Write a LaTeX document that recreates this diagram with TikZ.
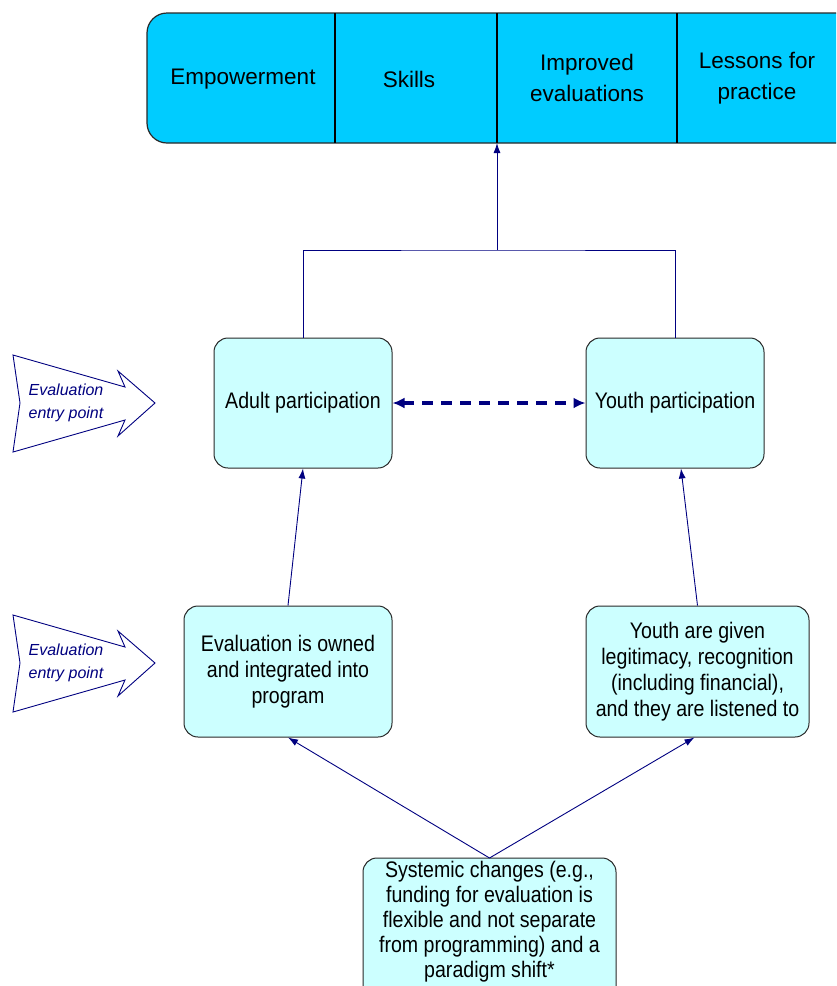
\documentclass[tikz,border=0pt]{standalone}
\usepackage{fontspec}
\setmainfont{Liberation Sans}
\newfontfamily\boxfont[FakeStretch=0.87]{Liberation Sans}
\usetikzlibrary{arrows.meta}
\definecolor{navy}{RGB}{0,0,128}
\definecolor{topcyan}{RGB}{0,204,255}
\definecolor{boxcyan}{RGB}{204,255,255}
\definecolor{edgegray}{RGB}{40,40,40}
\begin{document}
\begin{tikzpicture}[x=1pt,y=-1pt,
 box/.style={draw=edgegray, line width=1pt, fill=boxcyan, rounded corners=14pt, align=center, font=\boxfont\fontsize{22.5}{26}\selectfont, inner sep=0pt},
 toptext/.style={align=center, font=\fontsize{22.5}{31}\selectfont},
 link/.style={draw=navy, line width=0.9pt},
 arr/.style={link, -{Latex[length=10pt,width=7pt]}},
 entry/.style={draw=navy, line width=0.9pt, fill=white},
 entrytext/.style={text=navy, align=center, font=\fontsize{16}{23}\selectfont\itshape}
]
\useasboundingbox (0,0) rectangle (836,986);
\clip (0,0) rectangle (836,986);

% top outcome box
\draw[fill=topcyan, draw=edgegray, line width=1.2pt] (870,13) [rounded corners=20pt] -- (147,13) -- (147,143) [sharp corners] -- (870,143) -- cycle;
\foreach \xx in {335,497,677} \draw[line width=1.5pt] (\xx,13) -- (\xx,143);
\node[toptext] (emp) at (243,79) {Empowerment};
\node[toptext] (skl) at (409,79) {Skills};
\node[toptext] (imp) at (587,78) {Improved\\evaluations};
\node[toptext] (les) at (757,78) {Lessons for\\practice};
\coordinate (topin) at (497,143);

% boxes
\node[box, minimum width=178, minimum height=130] (adult) at (303,403) {Adult participation};
\node[box, minimum width=178, minimum height=130] (youth) at (675,403) {Youth participation};
\node[box, minimum width=208, minimum height=131] (own) at (288,671.5) {Evaluation is owned\\and integrated into\\program};
\node[box, minimum width=223, minimum height=131] (given) at (697.5,671.5) {Youth are given\\legitimacy, recognition\\(including financial),\\and they are listened to};

\draw[box] (363,858) rectangle (616,1010);
\node[align=center, font=\boxfont\fontsize{22.5}{25}\selectfont, inner sep=0pt] (sys) at (489.5,922) {Systemic changes (e.g.,\\funding for evaluation is\\flexible and not separate\\from programming) and a\\paradigm shift*};
\coordinate (systop) at (489.5,858);

% connectors
\coordinate (join) at (497,250);
\draw[link] (adult.north) |- (join) -| (youth.north);
\draw[arr] (join) -- (topin);
\draw[arr] (own.north) -- (adult.south);
\draw[arr] (given.north) -- ([xshift=6pt]youth.south);
\draw[arr] (systop) -- (own.south);
\draw[arr] (systop) -- ([xshift=-3pt]given.south);
\draw[navy, line width=3.5pt, dash pattern=on 11pt off 8pt, {Latex[length=12pt,width=11pt]}-{Latex[length=12pt,width=11pt]}] (adult.east) -- (youth.west);

% entry point arrows
\foreach \dy/\nm in {0/epa,260/epb}{
  \draw[entry] (13,{355+\dy}) -- (125,{387+\dy}) -- (118,{371+\dy}) -- (155,{403+\dy}) -- (118,{436+\dy}) -- (125,{420+\dy}) -- (13,{452+\dy}) -- (20,{403+\dy}) -- cycle;
  \node[entrytext] (\nm) at (66,{403+\dy}) {Evaluation\\entry point};
}
\end{tikzpicture}
\end{document}
